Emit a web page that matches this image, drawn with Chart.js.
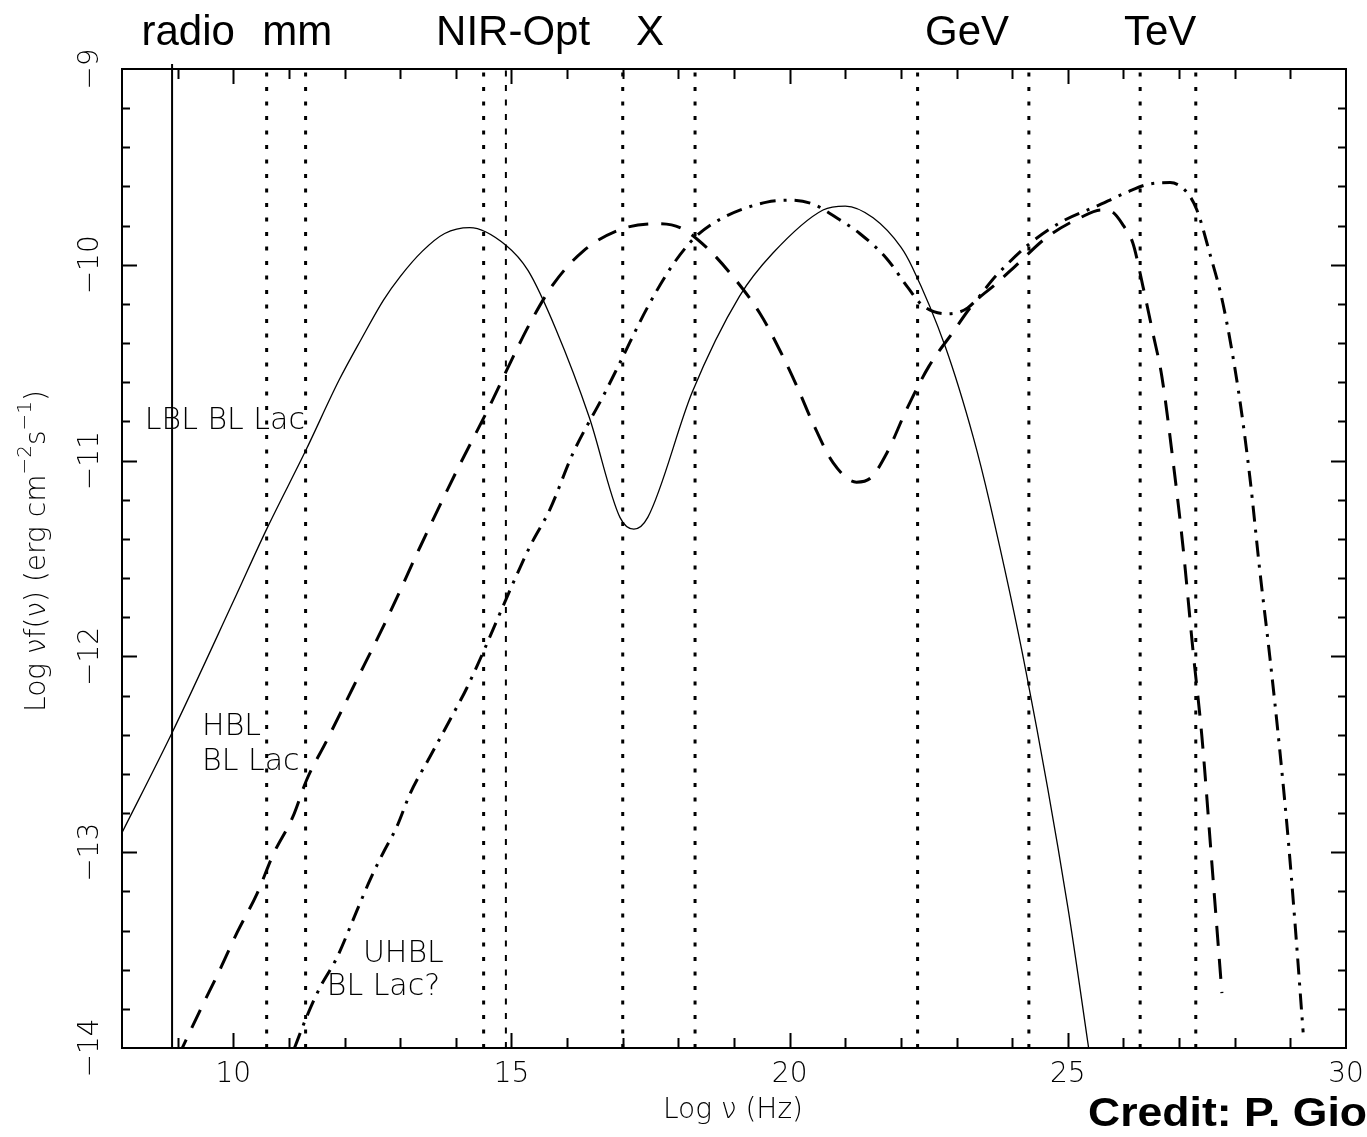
<!DOCTYPE html>
<html>
<head>
<meta charset="utf-8">
<script src="https://cdn.jsdelivr.net/npm/chart.js@4.4.1/dist/chart.umd.min.js"></script>
<style>
  html, body { margin: 0; padding: 0; background: #fff; }
  canvas { display: block; }
</style>
</head>
<body>
<canvas id="sed" width="1367" height="1137"></canvas>
<script>
// LBL BL Lac (solid)
const lblX = [8.0, 8.9, 10.0, 10.6, 11.3, 11.9, 12.3, 12.7, 13.0, 13.4, 13.8, 14.25, 14.9, 15.3, 15.8, 16.4, 16.95, 17.2, 17.45, 18.25, 19.1, 19.7, 20.6, 21.0, 21.5, 22.0, 22.2, 22.8, 23.3, 23.6, 24.25, 25.0, 25.4];
const lblY = [-12.90, -12.39, -11.72, -11.35, -10.95, -10.59, -10.38, -10.18, -10.06, -9.93, -9.84, -9.81, -9.90, -10.03, -10.33, -10.78, -11.29, -11.35, -11.29, -10.65, -10.16, -9.94, -9.72, -9.70, -9.76, -9.91, -10.01, -10.42, -10.88, -11.22, -12.08, -13.28, -14.05];

// HBL BL Lac (dashed)
const hblX = [9.0, 9.4, 9.76, 10.07, 10.43, 10.72, 11.07, 11.32, 11.68, 12.15, 12.76, 13.36, 14.02, 14.61, 15.03, 15.33, 15.75, 16.29, 16.95, 17.62, 18.03, 18.5, 18.98, 19.47, 19.83, 20.13, 20.42, 20.78, 21.2, 21.45, 21.75, 22.1, 22.5, 22.92, 23.33, 23.7, 24.08, 24.62, 25.22, 25.6, 25.8, 26.0, 26.17, 26.35, 26.53, 26.69, 26.89, 27.07, 27.25, 27.41, 27.59, 27.77];
const hblY = [-14.05, -13.81, -13.60, -13.41, -13.21, -13.01, -12.82, -12.63, -12.43, -12.16, -11.81, -11.44, -11.05, -10.72, -10.47, -10.30, -10.10, -9.93, -9.82, -9.79, -9.81, -9.91, -10.06, -10.25, -10.44, -10.62, -10.81, -11.01, -11.11, -11.09, -10.96, -10.74, -10.52, -10.35, -10.19, -10.10, -10.00, -9.86, -9.76, -9.72, -9.73, -9.80, -9.89, -10.11, -10.35, -10.57, -11.00, -11.44, -11.97, -12.41, -13.06, -13.72];

// UHBL BL Lac? (dash-dot)
const uhblX = [11.1, 11.32, 11.56, 11.86, 12.22, 12.46, 12.7, 12.94, 13.18, 13.54, 13.96, 14.2, 15.33, 15.69, 16.11, 16.65, 16.95, 17.44, 17.9, 18.3, 18.8, 19.59, 20.0, 20.42, 20.9, 21.26, 21.75, 22.11, 22.4, 22.83, 23.2, 23.73, 24.28, 24.89, 25.52, 26.06, 26.42, 26.84, 27.14, 27.32, 27.55, 27.79, 28.07, 28.27, 28.45, 28.63, 28.81, 28.96, 29.08, 29.23];
const uhblY = [-14.0, -13.84, -13.69, -13.54, -13.30, -13.14, -13.0, -12.87, -12.70, -12.51, -12.29, -12.16, -11.44, -11.25, -10.96, -10.67, -10.50, -10.22, -10.00, -9.86, -9.76, -9.68, -9.67, -9.69, -9.77, -9.84, -9.97, -10.11, -10.21, -10.25, -10.22, -10.05, -9.90, -9.78, -9.70, -9.63, -9.59, -9.58, -9.63, -9.72, -9.94, -10.20, -10.65, -11.08, -11.56, -12.00, -12.48, -12.93, -13.35, -13.92];

// band boundaries
const radioLineX = 8.9;
const bandLinesX = [10.6, 11.3, 14.5, 17.0, 18.3, 22.3, 24.3, 26.3, 27.3];
const thinBandLineX = 14.9;

// labels
const bandNames = ["radio", "mm", "NIR-Opt", "X", "GeV", "TeV"];
const bandNameX = [9.19, 11.15, 15.03, 17.49, 23.19, 26.66];
const xTickLabels = [10, 15, 20, 25, 30];
const yTickLabels = [-9, -10, -11, -12, -13, -14];
const notes = ["LBL BL Lac", "HBL", "BL Lac", "UHBL", "BL Lac?"];
const noteX = [8.41, 9.44, 9.44, 12.33, 11.68];
const noteY = [-10.80, -12.36, -12.54, -13.52, -13.69];

const X_MIN = 8, X_MAX = 30, Y_MIN = -14, Y_MAX = -9;
const LIGHT = '"DejaVu Sans", sans-serif';

function pts(xs, ys) {
  return xs.map((x, i) => ({ x: x, y: ys[i] }));
}

function vline(x, width, dash) {
  return {
    data: [{ x: x, y: Y_MIN }, { x: x, y: Y_MAX }],
    borderColor: "#000",
    borderWidth: width,
    borderDash: dash,
    pointRadius: 0,
    tension: 0,
  };
}

const datasets = [];
datasets.push(vline(radioLineX, 2, []));
bandLinesX.forEach((x) => datasets.push(vline(x, 3, [4, 10.5])));
datasets.push(vline(thinBandLineX, 2, [6, 8.5]));

datasets.push({
  data: pts(lblX, lblY),
  borderColor: "#000",
  borderWidth: 1.3,
  pointRadius: 0,
  cubicInterpolationMode: "monotone",
});
datasets.push({
  data: pts(hblX, hblY),
  borderColor: "#000",
  borderWidth: 3,
  borderDash: [20, 13],
  pointRadius: 0,
  cubicInterpolationMode: "monotone",
});
datasets.push({
  data: pts(uhblX, uhblY),
  borderColor: "#000",
  borderWidth: 3,
  borderDash: [16, 8, 3, 8],
  pointRadius: 0,
  cubicInterpolationMode: "monotone",
});

const framePlugin = {
  id: "frame",
  afterDraw(chart) {
    const ctx = chart.ctx;
    const xs = chart.scales.x;
    const ys = chart.scales.y;
    const a = chart.chartArea;
    ctx.save();
    ctx.strokeStyle = "#000";
    ctx.fillStyle = "#000";

    // box
    ctx.lineWidth = 2;
    ctx.strokeRect(a.left, a.top, a.right - a.left, a.bottom - a.top);

    // radio line pokes slightly above the frame
    const rx = xs.getPixelForValue(radioLineX);
    ctx.beginPath();
    ctx.moveTo(rx, a.top);
    ctx.lineTo(rx, a.top - 5);
    ctx.stroke();

    // ticks, all four sides, pointing in
    ctx.beginPath();
    for (let v = X_MIN + 1; v < X_MAX; v++) {
      const px = Math.round(xs.getPixelForValue(v)) + 0.5;
      const len = v % 5 === 0 ? 15 : 10;
      ctx.moveTo(px, a.bottom); ctx.lineTo(px, a.bottom - len);
      ctx.moveTo(px, a.top); ctx.lineTo(px, a.top + len);
    }
    for (let k = 1; k < 25; k++) {
      const v = Y_MIN + k * 0.2;
      const py = Math.round(ys.getPixelForValue(v)) + 0.5;
      const len = k % 5 === 0 ? 15 : 8;
      ctx.moveTo(a.left, py); ctx.lineTo(a.left + len, py);
      ctx.moveTo(a.right, py); ctx.lineTo(a.right - len, py);
    }
    ctx.stroke();

    // x tick labels
    ctx.font = "200 28px " + LIGHT;
    ctx.textAlign = "center";
    ctx.textBaseline = "middle";
    xTickLabels.forEach((v) => {
      ctx.fillText(String(v), xs.getPixelForValue(v), 1075);
    });

    // y tick labels, rotated
    yTickLabels.forEach((v) => {
      ctx.save();
      ctx.translate(91, ys.getPixelForValue(v));
      ctx.rotate(-Math.PI / 2);
      ctx.fillText("\u2212" + Math.abs(v), 0, 0);
      ctx.restore();
    });

    // x title
    ctx.font = "200 28px " + LIGHT;
    ctx.fillText("Log \u03BD (Hz)", 733, 1111);

    // y title with superscripts
    ctx.save();
    ctx.translate(38, 551);
    ctx.rotate(-Math.PI / 2);
    const parts = [
      ["Log \u03BDf(\u03BD) (erg cm", false],
      ["\u22122", true],
      ["s", false],
      ["\u22121", true],
      [")", false],
    ];
    const mainFont = "200 28px " + LIGHT;
    const supFont = "200 20px " + LIGHT;
    let total = 0;
    parts.forEach((p) => {
      ctx.font = p[1] ? supFont : mainFont;
      total += ctx.measureText(p[0]).width;
    });
    let cx = -total / 2;
    ctx.textAlign = "left";
    parts.forEach((p) => {
      ctx.font = p[1] ? supFont : mainFont;
      ctx.fillText(p[0], cx, p[1] ? -12 : 0);
      cx += ctx.measureText(p[0]).width;
    });
    ctx.restore();

    // curve notes
    ctx.font = "200 30px " + LIGHT;
    ctx.textAlign = "left";
    ctx.textBaseline = "middle";
    notes.forEach((t, i) => {
      ctx.fillText(t, xs.getPixelForValue(noteX[i]), ys.getPixelForValue(noteY[i]));
    });

    // band names along top
    ctx.font = '42px "Liberation Sans", Arial, sans-serif';
    ctx.textAlign = "center";
    ctx.textBaseline = "alphabetic";
    bandNames.forEach((t, i) => {
      ctx.fillText(t, xs.getPixelForValue(bandNameX[i]), 45);
    });

    // credit, cut by the right edge as in the source ("...Gio" reaches the edge)
    ctx.font = 'bold 41px "Liberation Sans", Arial, sans-serif';
    ctx.textAlign = "left";
    const shown = ctx.measureText("Credit: P. Gio").width;
    ctx.save();
    ctx.translate(1088, 1126);
    ctx.scale((1367 - 1088) / shown, 1);
    ctx.fillText("Credit: P. Giommi", 0, 0);
    ctx.restore();

    ctx.restore();
  },
};

new Chart(document.getElementById("sed"), {
  type: "line",
  data: { datasets: datasets },
  options: {
    responsive: false,
    animation: false,
    events: [],
    layout: { padding: { left: 122, top: 69, right: 21, bottom: 89 } },
    plugins: { legend: { display: false }, tooltip: { enabled: false } },
    scales: {
      x: { type: "linear", min: X_MIN, max: X_MAX, display: false },
      y: { type: "linear", min: Y_MIN, max: Y_MAX, display: false },
    },
  },
  plugins: [framePlugin],
});
</script>
</body>
</html>
